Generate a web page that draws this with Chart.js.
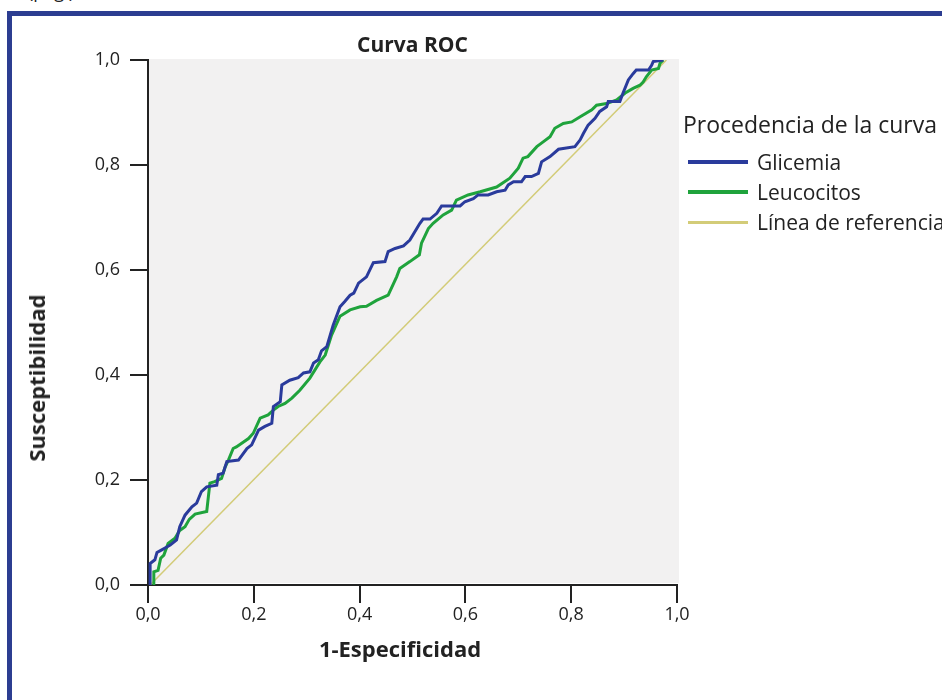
<!DOCTYPE html>
<html>
<head>
<meta charset="utf-8">
<script src="https://cdn.jsdelivr.net/npm/chart.js@4.4.1/dist/chart.umd.min.js"></script>
<style>
  body { margin: 0; width: 942px; height: 700px; overflow: hidden; background: #fff; position: relative; font-family: "Open Sans", sans-serif; color: #222; }
  #frame { position: absolute; left: 7px; top: 11px; width: 1000px; height: 800px; border: 5px solid #2c3d91; box-sizing: border-box; }
  #page-ref { position: absolute; left: 28px; top: -21px; font-size: 18px; line-height: 24px; }
  #chart { position: absolute; left: 0; top: 0; }
  .axis-title { position: absolute; font-weight: bold; font-size: 22px; white-space: nowrap; transform: translate(-50%, -50%); }
  #y-title { left: 36px; top: 378px; transform: translate(-50%, -50%) rotate(-90deg); }
  #x-title { left: 400px; top: 648px; }
  #legend { position: absolute; left: 683px; top: 109px; white-space: nowrap; }
  #legend .head { font-size: 23px; line-height: 30px; margin-bottom: 8px; }
  #legend .item { font-size: 21px; line-height: 30px; height: 30px; display: flex; align-items: center; }
  #legend .swatch { width: 60px; margin-left: 5px; margin-right: 9px; }
</style>
</head>
<body>
<div id="frame"></div>
<div id="page-ref">(pág.)</div>
<canvas id="chart" width="942" height="700"></canvas>
<div class="axis-title" id="y-title">Susceptibilidad</div>
<div class="axis-title" id="x-title">1-Especificidad</div>
<div id="legend"></div>
<script>
// Series names and colours
const seriesNames = ["Glicemia", "Leucocitos", "Línea de referencia"];
const seriesColors = ["#2a3b9c", "#1fa33c", "#d3cc78"];

// Glicemia curve (1-Especificidad, Susceptibilidad)
const glicemiaX = [0.004, 0.004, 0.013, 0.017, 0.026, 0.033, 0.042, 0.054, 0.060, 0.070, 0.083, 0.092, 0.101, 0.111, 0.130, 0.133, 0.142, 0.149, 0.171, 0.187, 0.196, 0.209, 0.221, 0.234, 0.237, 0.250, 0.253, 0.268, 0.284, 0.294, 0.306, 0.313, 0.322, 0.328, 0.338, 0.350, 0.363, 0.372, 0.382, 0.389, 0.398, 0.413, 0.426, 0.448, 0.454, 0.467, 0.483, 0.495, 0.514, 0.520, 0.533, 0.546, 0.555, 0.590, 0.599, 0.615, 0.624, 0.643, 0.659, 0.675, 0.681, 0.691, 0.706, 0.713, 0.725, 0.738, 0.744, 0.760, 0.776, 0.807, 0.817, 0.823, 0.832, 0.845, 0.854, 0.867, 0.870, 0.892, 0.898, 0.908, 0.917, 0.923, 0.946, 0.952, 0.955, 0.974];
const glicemiaY = [0.000, 0.041, 0.048, 0.062, 0.067, 0.071, 0.076, 0.086, 0.111, 0.133, 0.149, 0.156, 0.178, 0.187, 0.190, 0.210, 0.213, 0.235, 0.238, 0.260, 0.267, 0.295, 0.302, 0.308, 0.340, 0.349, 0.381, 0.390, 0.395, 0.404, 0.406, 0.423, 0.429, 0.446, 0.454, 0.495, 0.530, 0.540, 0.552, 0.556, 0.575, 0.587, 0.614, 0.616, 0.635, 0.641, 0.646, 0.657, 0.689, 0.697, 0.697, 0.708, 0.722, 0.722, 0.730, 0.736, 0.743, 0.743, 0.749, 0.752, 0.762, 0.768, 0.768, 0.778, 0.778, 0.784, 0.806, 0.816, 0.830, 0.835, 0.848, 0.860, 0.876, 0.889, 0.902, 0.911, 0.921, 0.921, 0.937, 0.962, 0.974, 0.981, 0.981, 0.990, 0.997, 1.000];

// Leucocitos curve
const leucocitosX = [0.010, 0.011, 0.019, 0.024, 0.030, 0.038, 0.051, 0.060, 0.070, 0.078, 0.089, 0.111, 0.117, 0.126, 0.139, 0.146, 0.152, 0.161, 0.167, 0.190, 0.199, 0.212, 0.227, 0.237, 0.246, 0.259, 0.272, 0.287, 0.306, 0.325, 0.335, 0.347, 0.363, 0.382, 0.401, 0.413, 0.432, 0.454, 0.470, 0.476, 0.495, 0.513, 0.517, 0.530, 0.539, 0.558, 0.574, 0.583, 0.605, 0.628, 0.659, 0.684, 0.700, 0.709, 0.718, 0.735, 0.747, 0.760, 0.769, 0.785, 0.801, 0.817, 0.839, 0.848, 0.867, 0.886, 0.902, 0.917, 0.930, 0.936, 0.942, 0.952, 0.965, 0.968, 0.974];
const leucocitosY = [0.000, 0.025, 0.028, 0.051, 0.057, 0.079, 0.089, 0.104, 0.111, 0.125, 0.135, 0.140, 0.194, 0.197, 0.203, 0.225, 0.238, 0.260, 0.263, 0.279, 0.289, 0.318, 0.324, 0.333, 0.340, 0.346, 0.356, 0.371, 0.394, 0.425, 0.438, 0.476, 0.512, 0.524, 0.530, 0.531, 0.542, 0.552, 0.587, 0.603, 0.616, 0.629, 0.651, 0.679, 0.689, 0.705, 0.714, 0.733, 0.743, 0.749, 0.758, 0.775, 0.794, 0.813, 0.816, 0.835, 0.844, 0.854, 0.870, 0.879, 0.882, 0.892, 0.905, 0.914, 0.917, 0.924, 0.937, 0.946, 0.952, 0.958, 0.968, 0.981, 0.984, 0.994, 1.000];

// Reference diagonal
const referenciaX = [0.004, 0.980];
const referenciaY = [0.000, 1.000];

// Axis ticks
const tickValues = [0, 0.2, 0.4, 0.6, 0.8, 1.0];

function toPoints(xs, ys) {
  return xs.map((x, i) => ({ x: x, y: ys[i] }));
}

function formatTick(v) {
  return v.toFixed(1).replace(".", ",");
}

// Build legend from the series names
const legendEl = document.getElementById("legend");
let legendHtml = '<div class="head">Procedencia de la curva</div>';
seriesNames.forEach((name, i) => {
  const h = i === 2 ? 3 : 4;
  legendHtml += '<div class="item"><span class="swatch" style="height:' + h + "px;background:" + seriesColors[i] + '"></span>' + name + "</div>";
});
legendEl.innerHTML = legendHtml;

// Grey plot background
const plotBackground = {
  id: "plotBackground",
  beforeDraw(chart) {
    const { ctx, chartArea } = chart;
    ctx.save();
    ctx.fillStyle = "#f2f1f1";
    ctx.fillRect(chartArea.left, chartArea.top - 1, chartArea.right - chartArea.left + 2, chartArea.bottom - chartArea.top - 1);
    ctx.restore();
  },
};

Chart.defaults.font.family = "'Open Sans', sans-serif";
Chart.defaults.color = "#222";

const axisStyle = {
  grid: { drawOnChartArea: false, drawTicks: true, tickLength: 18, color: "#222", lineWidth: 2 },
  border: { display: true, color: "#222", width: 2 },
};

const ctx = document.getElementById("chart").getContext("2d");
new Chart(ctx, {
  type: "line",
  data: {
    datasets: [
      {
        label: seriesNames[0],
        data: toPoints(glicemiaX, glicemiaY),
        borderColor: seriesColors[0],
        borderWidth: 3,
        pointRadius: 0,
        fill: false,
      },
      {
        label: seriesNames[1],
        data: toPoints(leucocitosX, leucocitosY),
        borderColor: seriesColors[1],
        borderWidth: 3,
        pointRadius: 0,
        fill: false,
      },
      {
        label: seriesNames[2],
        data: toPoints(referenciaX, referenciaY),
        borderColor: seriesColors[2],
        borderWidth: 1.5,
        pointRadius: 0,
        fill: false,
      },
    ],
  },
  options: {
    responsive: false,
    animation: false,
    devicePixelRatio: 1,
    layout: { padding: { left: 0, right: 265, top: 0, bottom: 0 } },
    plugins: {
      legend: { display: false },
      tooltip: { enabled: false },
      title: {
        display: true,
        text: "Curva ROC",
        fullSize: false,
        font: { size: 21, weight: "bold" },
        padding: { top: 33.5, bottom: 1.3 },
        color: "#222",
      },
    },
    scales: {
      x: {
        type: "linear",
        min: 0,
        max: 1,
        afterFit(scale) { scale.height = 115; },
        afterBuildTicks(scale) { scale.ticks = tickValues.map((v) => ({ value: v })); },
        ticks: { callback: formatTick, font: { size: 18 }, padding: 1, maxRotation: 0 },
        ...axisStyle,
      },
      y: {
        type: "linear",
        min: 0,
        max: 1,
        afterFit(scale) { scale.width = 148; },
        afterBuildTicks(scale) { scale.ticks = tickValues.map((v) => ({ value: v })); },
        ticks: { callback: formatTick, font: { size: 18 }, padding: 10 },
        ...axisStyle,
      },
    },
  },
  plugins: [plotBackground],
});
</script>
</body>
</html>
